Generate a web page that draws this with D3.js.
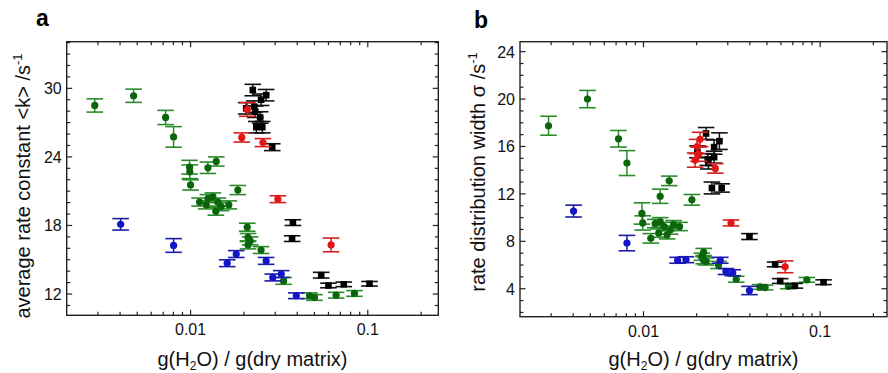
<!DOCTYPE html>
<html>
<head>
<meta charset="utf-8">
<script src="https://cdnjs.cloudflare.com/ajax/libs/d3/7.8.5/d3.min.js"></script>
<style>
  body { margin: 0; background: #fff; }
  svg { font-family: "Liberation Sans", Arial, sans-serif; }
  .tick-label { font-size: 16px; fill: #111; }
  .axis-title { font-size: 20px; fill: #111; }
  .panel-letter { font-size: 23px; font-weight: bold; fill: #000; }
</style>
</head>
<body>
<div id="chart"></div>
<script>
// each point: [g(H2O)/g(dry matrix), value, error]
var rateGreen = [
    [0.00288, 28.5, 0.58], [0.00477, 29.35, 0.58], [0.00723, 27.45, 0.62], [0.00802, 25.75, 0.9],
    [0.00987, 23.1, 0.6], [0.00990, 22.7, 0.6], [0.0100, 21.55, 0.45], [0.01253, 23.05, 0.5],
    [0.01396, 23.6, 0.4], [0.01849, 21.1, 0.4], [0.01124, 20.05, 0.35], [0.01253, 20.35, 0.35],
    [0.01336, 20.5, 0.35], [0.01426, 20.05, 0.35], [0.01226, 19.8, 0.35], [0.01489, 19.65, 0.35],
    [0.01644, 19.8, 0.35], [0.01389, 19.25, 0.35], [0.02089, 17.85, 0.35], [0.0211, 16.95, 0.35],
    [0.0217, 16.65, 0.35], [0.0211, 16.3, 0.35], [0.0250, 15.85, 0.3], [0.0335, 13.15, 0.3],
    [0.0469, 11.85, 0.25], [0.0500, 11.7, 0.25], [0.0663, 11.9, 0.25], [0.0841, 12.05, 0.25]
];
var rateBlue = [
    [0.00403, 18.1, 0.5], [0.00802, 16.25, 0.6], [0.0161, 14.7, 0.3], [0.0181, 15.5, 0.3],
    [0.0267, 14.9, 0.3], [0.0291, 13.45, 0.3], [0.0325, 13.75, 0.3], [0.0395, 11.85, 0.25]
];
var rateRed = [
    [0.0209, 28.15, 0.6], [0.01946, 25.7, 0.4], [0.0256, 25.25, 0.35], [0.0311, 20.3, 0.3], [0.0621, 16.3, 0.6]
];
var rateBlack = [
    [0.02245, 29.85, 0.5], [0.0267, 29.4, 0.5], [0.0250, 29.0, 0.5], [0.0229, 28.4, 0.5],
    [0.0206, 28.25, 0.5], [0.0232, 27.95, 0.5], [0.0247, 27.45, 0.5], [0.0235, 26.6, 0.5],
    [0.0254, 26.6, 0.5], [0.0289, 24.85, 0.3], [0.0378, 18.25, 0.25], [0.0374, 16.85, 0.25],
    [0.0546, 13.65, 0.25], [0.0600, 12.75, 0.2], [0.0732, 12.85, 0.2], [0.1023, 12.9, 0.2]
];

var widthGreen = [
    [0.0029, 17.75, 0.8], [0.00482, 20.0, 0.73], [0.00722, 16.65, 0.7], [0.00806, 14.6, 1.05],
    [0.0098, 10.35, 0.9], [0.0099, 9.55, 0.6], [0.0110, 8.25, 0.4], [0.01243, 11.8, 0.6],
    [0.01398, 13.1, 0.4], [0.01879, 11.5, 0.45], [0.01164, 9.5, 0.35], [0.01243, 9.65, 0.35],
    [0.0131, 9.25, 0.35], [0.01415, 8.95, 0.35], [0.0148, 9.4, 0.35], [0.0160, 9.25, 0.35],
    [0.0122, 8.7, 0.35], [0.0136, 8.55, 0.35], [0.0219, 7.1, 0.3], [0.0214, 6.7, 0.3],
    [0.0219, 6.4, 0.3], [0.0226, 6.3, 0.3], [0.0266, 6.0, 0.3], [0.0335, 4.8, 0.25],
    [0.0457, 4.15, 0.2], [0.0488, 4.1, 0.2], [0.0661, 4.2, 0.2], [0.0841, 4.75, 0.2]
];
var widthBlue = [
    [0.00402, 10.55, 0.5], [0.00806, 7.85, 0.65], [0.0156, 6.4, 0.25], [0.0174, 6.45, 0.25],
    [0.0272, 6.4, 0.25], [0.0293, 5.45, 0.25], [0.0320, 5.35, 0.25], [0.0398, 3.85, 0.35]
];
var widthRed = [
    [0.0209, 16.6, 0.6], [0.0201, 16.0, 0.6], [0.0205, 15.35, 0.6], [0.0196, 14.85, 0.6],
    [0.0255, 14.15, 0.4], [0.0313, 9.55, 0.25], [0.0634, 5.85, 0.5]
];
var widthBlack = [
    [0.0226, 17.1, 0.5], [0.0269, 16.45, 0.7], [0.0251, 15.95, 0.6], [0.0202, 15.55, 0.5],
    [0.0251, 15.1, 0.5], [0.0231, 14.9, 0.5], [0.0233, 14.6, 0.5], [0.0244, 12.5, 0.5],
    [0.0277, 12.5, 0.35], [0.0398, 8.4, 0.25], [0.0556, 6.05, 0.2], [0.0594, 4.65, 0.2],
    [0.0720, 4.25, 0.2], [0.1045, 4.55, 0.2]
];

var xTicks = [0.01, 0.1];
var rateTicks = [12, 18, 24, 30];
var widthTicks = [4, 8, 12, 16, 20, 24];

var colors = {
    green: { mark: '#0b650b', bar: '#2a8c2a' },
    blue: { mark: '#1414c8', bar: '#1c1ca6' },
    red: { mark: '#e31616', bar: '#d42020' },
    black: { mark: '#000', bar: '#111' }
};

var svg = d3.select('#chart')
    .append('svg')
    .attr('width', 888)
    .attr('height', 373);

var drawPanel = function (opts) {
    var x = d3.scaleLog().domain(opts.xDomain).range([opts.left, opts.right]);
    var y = d3.scaleLinear().domain(opts.yDomain).range([opts.bottom, opts.top]);
    var g = svg.append('g');

    // frame
    g.append('rect')
        .attr('x', opts.left)
        .attr('y', opts.top)
        .attr('width', opts.right - opts.left)
        .attr('height', opts.bottom - opts.top)
        .attr('fill', 'none')
        .attr('stroke', '#222')
        .attr('stroke-width', 1.4);

    // minor/major x ticks on bottom and top
    var xMinor = [];
    [0.001, 0.01, 0.1].forEach(function (d) {
        for (var i = 1; i < 10; i++) {
            var v = d * i;
            if (v > opts.xDomain[0] && v < opts.xDomain[1]) xMinor.push(v);
        }
    });
    xMinor.forEach(function (v) {
        var major = xTicks.indexOf(+v.toPrecision(3)) >= 0;
        var len = major ? 5.5 : 3.5;
        g.append('line').attr('x1', x(v)).attr('x2', x(v))
            .attr('y1', opts.bottom).attr('y2', opts.bottom - len)
            .attr('stroke', '#222').attr('stroke-width', 1.2);
        g.append('line').attr('x1', x(v)).attr('x2', x(v))
            .attr('y1', opts.top).attr('y2', opts.top + len)
            .attr('stroke', '#222').attr('stroke-width', 1.2);
    });

    // y ticks, one per unit, on left and right
    var yAll = d3.range(Math.ceil(opts.yDomain[0]), Math.floor(opts.yDomain[1]) + 1);
    yAll.forEach(function (v) {
        var len = opts.yTicks.indexOf(v) >= 0 ? 5.5 : 3.5;
        g.append('line').attr('x1', opts.left).attr('x2', opts.left + len)
            .attr('y1', y(v)).attr('y2', y(v))
            .attr('stroke', '#222').attr('stroke-width', 1.2);
        g.append('line').attr('x1', opts.right).attr('x2', opts.right - len)
            .attr('y1', y(v)).attr('y2', y(v))
            .attr('stroke', '#222').attr('stroke-width', 1.2);
    });

    g.selectAll('.xlab')
        .data(xTicks)
        .enter()
        .append('text')
        .attr('class', 'tick-label')
        .attr('x', function (d) { return x(d); })
        .attr('y', opts.bottom + 20)
        .attr('text-anchor', 'middle')
        .text(function (d) { return d; });

    g.selectAll('.ylab')
        .data(opts.yTicks)
        .enter()
        .append('text')
        .attr('class', 'tick-label')
        .attr('x', opts.left - 5)
        .attr('y', function (d) { return y(d) + 6; })
        .attr('text-anchor', 'end')
        .text(function (d) { return d; });

    // x title with subscript
    var xt = g.append('text')
        .attr('class', 'axis-title')
        .attr('x', (opts.left + opts.right) / 2)
        .attr('y', 366)
        .attr('text-anchor', 'middle');
    xt.append('tspan').text('g(H');
    xt.append('tspan').attr('font-size', '12px').attr('dy', 4).text('2');
    xt.append('tspan').attr('dy', -4).text('O) / g(dry matrix)');

    // y title with superscript
    var yt = g.append('text')
        .attr('class', 'axis-title')
        .attr('transform', 'translate(' + opts.yTitleX + ',' + opts.yTitleY + ') rotate(-90)')
        .attr('text-anchor', 'middle');
    yt.append('tspan').text(opts.yTitle);
    yt.append('tspan').attr('font-size', '13px').attr('dy', -8).text('-1');

    svg.append('text')
        .attr('class', 'panel-letter')
        .attr('x', opts.letterX)
        .attr('y', opts.letterY)
        .text(opts.letter);

    var cap = 8.3;
    var addSeries = function (data, color, square) {
        var s = g.append('g');
        data.forEach(function (d) {
            var cx = x(d[0]), y0 = y(d[1] - d[2]), y1 = y(d[1] + d[2]);
            s.append('line').attr('x1', cx).attr('x2', cx).attr('y1', y0).attr('y2', y1)
                .attr('stroke', color.bar).attr('stroke-width', 1.5);
            [y0, y1].forEach(function (yy) {
                s.append('line').attr('x1', cx - cap).attr('x2', cx + cap).attr('y1', yy).attr('y2', yy)
                    .attr('stroke', color.bar).attr('stroke-width', 1.6);
            });
        });
        data.forEach(function (d) {
            if (square) {
                s.append('rect')
                    .attr('x', x(d[0]) - 3.3)
                    .attr('y', y(d[1]) - 3.3)
                    .attr('width', 6.6)
                    .attr('height', 6.6)
                    .attr('fill', color.mark);
            } else {
                s.append('circle')
                    .attr('cx', x(d[0]))
                    .attr('cy', y(d[1]))
                    .attr('r', 3.6)
                    .attr('fill', color.mark);
            }
        });
    };

    addSeries(opts.series[0], colors.green, false);
    addSeries(opts.series[1], colors.blue, false);
    addSeries(opts.series[3], colors.black, true);
    addSeries(opts.series[2], colors.red, false);
};

drawPanel({
    left: 66.7, right: 438.3, top: 41.7, bottom: 315.3,
    xDomain: [0.002, 0.25], yDomain: [10.14, 34.08],
    yTicks: rateTicks,
    yTitle: 'average rate constant <k> /s',
    yTitleX: 30, yTitleY: 186,
    letter: 'a', letterX: 36, letterY: 26,
    series: [rateGreen, rateBlue, rateRed, rateBlack]
});

drawPanel({
    left: 520, right: 887, top: 41.7, bottom: 316.7,
    xDomain: [0.002, 0.239], yDomain: [1.64, 24.84],
    yTicks: widthTicks,
    yTitle: 'rate distribution width \u03c3 /s',
    yTitleX: 485, yTitleY: 172,
    letter: 'b', letterX: 474, letterY: 28,
    series: [widthGreen, widthBlue, widthRed, widthBlack]
});
</script>
</body>
</html>
